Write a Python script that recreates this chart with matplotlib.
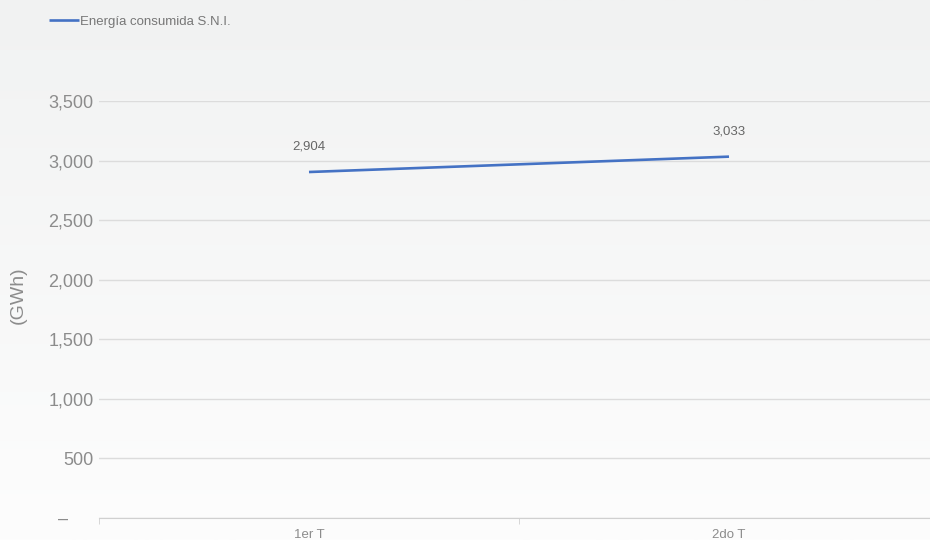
import numpy as np
import matplotlib
matplotlib.use("Agg")
import matplotlib.pyplot as plt
from matplotlib.ticker import FuncFormatter

categories = ["1er T", "2do T"]
consumo = [2904, 3033]
serie = "Energía consumida S.N.I."

plt.rcParams["font.family"] = ["Liberation Sans", "DejaVu Sans"]
GRAY = "#8c8c8c"
BLUE = "#4472c4"

fig = plt.figure(figsize=(9.3, 5.4), dpi=100)

# background gradient (light grey at top, near white at bottom)
bg = fig.add_axes([0, 0, 1, 1], zorder=-10)
grad = np.linspace(0, 1, 256).reshape(-1, 1)
bg.imshow(grad, aspect="auto", cmap=matplotlib.colors.LinearSegmentedColormap.from_list(
    "bg", ["#f1f2f2", "#fdfdfd"]), extent=[0, 1, 0, 1], origin="upper")
bg.axis("off")

ax = fig.add_axes([99 / 930, 1 - 518 / 540, 840 / 930, 417 / 540])
ax.patch.set_alpha(0)
x = np.arange(len(categories))
ax.plot(x, consumo, color=BLUE, lw=1.9, label=serie, solid_capstyle="butt")
for xi, v in zip(x, consumo):
    ax.annotate(f"{v:,}", (xi, v), xytext=(0, 14), textcoords="offset points",
                ha="center", va="bottom", fontsize=9.5, color="#666666")

ax.set_xlim(-0.5, 1.5)
ax.set_ylim(0, 3500)
ax.set_yticks(np.arange(0, 3501, 500))
# accounting style: zero shown as a dash
ax.yaxis.set_major_formatter(FuncFormatter(lambda v, p: "–     " if v == 0 else f"{int(v):,}"))
ax.set_xticks(x)
ax.set_xticklabels(categories)
ax.set_xticks([-0.5, 0.5, 1.5], minor=True)
ax.tick_params(axis="x", which="major", length=0, pad=8, labelsize=9.5, labelcolor=GRAY)
ax.tick_params(axis="x", which="minor", length=4, color="#d0d0d0")
ax.tick_params(axis="y", length=0, pad=4, labelsize=13, labelcolor=GRAY)
ax.grid(axis="y", color="#dcdcdc", lw=1)
ax.set_axisbelow(True)
for s in ["top", "right", "left"]:
    ax.spines[s].set_visible(False)
ax.spines["bottom"].set_color("#d0d0d0")
fig.text(18 / 930, 1 - 295 / 540, "(GWh)", rotation=90, fontsize=14, color=GRAY,
         ha="center", va="center")

ax.legend(loc="upper left", bbox_to_anchor=(38 / 930, 1 - 5 / 540), bbox_transform=fig.transFigure,
          frameon=False, fontsize=9.5, labelcolor="#777777", handlelength=2.3,
          handletextpad=0.1, borderaxespad=0.4)

fig.savefig("out.png", dpi=100)
